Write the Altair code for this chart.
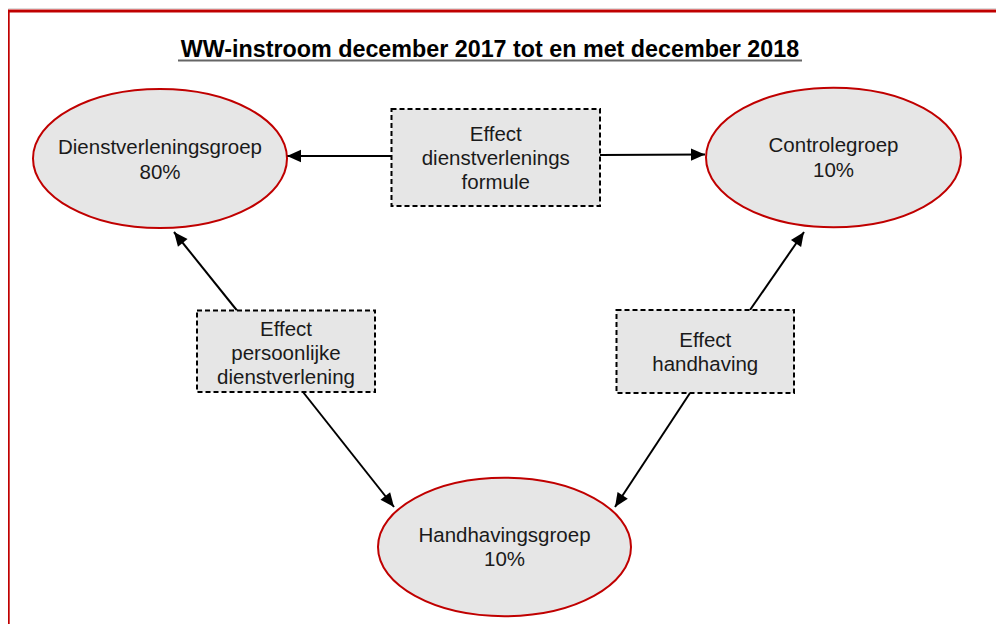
import math
import altair as alt
import pandas as pd

# ---------------- data ----------------
title_text = "WW-instroom december 2017 tot en met december 2018"
title_x = [490]
title_base = [57]
underline_x0 = [178]
underline_x1 = [802]
underline_y = [60.5]

node_names = ["Dienstverleningsgroep", "Controlegroep", "Handhavingsgroep"]
node_shares = ["80%", "10%", "10%"]
node_cx = [160, 833.5, 504.5]
node_cy = [158.5, 157.5, 547]
node_width = [254, 255, 253]
node_name_base = [154, 152, 542]
node_share_base = [179, 177, 566]

box_lines = [
    ["Effect", "dienstverlenings", "formule"],
    ["Effect", "persoonlijke", "dienstverlening"],
    ["Effect", "handhaving"],
]
box_x0 = [391.5, 197, 616.5]
box_x1 = [600, 375, 794]
box_y0 = [109, 310.5, 310]
box_y1 = [206, 392, 393]
box_first_base = [141, 336, 347]
box_line_step = 24

arrow_x0 = [391.5, 600, 237, 303, 750, 690]
arrow_y0 = [156, 155, 310.5, 392, 310, 393]
arrow_x1 = [287, 705, 174, 394, 804, 615]
arrow_y1 = [156, 154.5, 232, 507, 232, 507]

frame_x0 = [8.3]
frame_y0 = [11]
frame_x1 = [1200]
frame_y1 = [1200]

# ---------------- styling ----------------
FONT = "Liberation Sans"
GREY_FILL = "#e6e6e6"
RED = "#c00000"
TEXT = "#1a1a1a"
ELL_R = 0.547
k = 0.5523
ELLIPSE = (
    f"M -1 0 C -1 {-ELL_R*k:.4f} {-k} {-ELL_R} 0 {-ELL_R} "
    f"C {k} {-ELL_R} 1 {-ELL_R*k:.4f} 1 0 "
    f"C 1 {ELL_R*k:.4f} {k} {ELL_R} 0 {ELL_R} "
    f"C {-k} {ELL_R} -1 {ELL_R*k:.4f} -1 0 Z"
)
ARROW = "M 0 0 L 0.44 1 L -0.44 1 Z"
ARROW_SIZE = 784

W, H = 988, 616
xs = alt.Scale(domain=[8, 8 + W], nice=False, zero=False)
ys = alt.Scale(domain=[8, 8 + H], nice=False, zero=False, reverse=True)


def X(f):
    return alt.X(f, type="quantitative", scale=xs, axis=None)


def Y(f):
    return alt.Y(f, type="quantitative", scale=ys, axis=None)


# ---------------- tables ----------------
frame_df = pd.DataFrame({"x": frame_x0, "y": frame_y0, "x2": frame_x1, "y2": frame_y1})

arrow_df = pd.DataFrame({"x": arrow_x0, "y": arrow_y0, "x2": arrow_x1, "y2": arrow_y1})
arrow_df["angle"] = [
    (math.degrees(math.atan2(x1 - x0, -(y1 - y0))) + 360) % 360
    for x0, y0, x1, y1 in zip(arrow_x0, arrow_y0, arrow_x1, arrow_y1)
]

box_df = pd.DataFrame({"x": box_x0, "x2": box_x1, "y": box_y0, "y2": box_y1})

node_df = pd.DataFrame({"x": node_cx, "y": node_cy, "size": [w * w for w in node_width]})

node_text_rows = []
for nm, sh, cx, b1, b2 in zip(node_names, node_shares, node_cx, node_name_base, node_share_base):
    node_text_rows.append({"x": cx, "y": b1, "t": nm})
    node_text_rows.append({"x": cx, "y": b2, "t": sh})
node_text_df = pd.DataFrame(node_text_rows)

box_text_rows = []
for lines, x0, x1, b in zip(box_lines, box_x0, box_x1, box_first_base):
    for i, ln in enumerate(lines):
        box_text_rows.append({"x": (x0 + x1) / 2, "y": b + i * box_line_step, "t": ln})
box_text_df = pd.DataFrame(box_text_rows)

title_df = pd.DataFrame({"x": title_x, "y": title_base, "t": [title_text]})
underline_df = pd.DataFrame({"x": underline_x0, "x2": underline_x1, "y": underline_y})

# ---------------- layers ----------------
frame = alt.Chart(frame_df).mark_rect(
    fill=None, fillOpacity=0, stroke=RED, strokeWidth=2.8
).encode(x=X("x"), y=Y("y"), x2="x2", y2="y2")

lines_ = alt.Chart(arrow_df).mark_rule(color="black", strokeWidth=2).encode(
    x=X("x"), y=Y("y"), x2="x2", y2="y2"
)

heads = alt.Chart(arrow_df).mark_point(
    shape=ARROW, filled=True, fill="black", opacity=1, strokeWidth=0
).encode(
    x=X("x2"), y=Y("y2"), angle=alt.Angle("angle:Q", scale=None), size=alt.value(ARROW_SIZE)
)

boxes = alt.Chart(box_df).mark_rect(
    fill=GREY_FILL, stroke="black", strokeDash=[5, 3], strokeWidth=2
).encode(x=X("x"), y=Y("y"), x2="x2", y2="y2")

ellipses = alt.Chart(node_df).mark_point(
    shape=ELLIPSE, filled=True, fill=GREY_FILL, stroke=RED, strokeWidth=2,
    opacity=1, fillOpacity=1, strokeOpacity=1
).encode(x=X("x"), y=Y("y"), size=alt.Size("size:Q", scale=None))

node_text = alt.Chart(node_text_df).mark_text(
    font=FONT, fontSize=20.5, color=TEXT, baseline="alphabetic", align="center"
).encode(x=X("x"), y=Y("y"), text="t:N")

box_text = alt.Chart(box_text_df).mark_text(
    font=FONT, fontSize=20.5, color=TEXT, baseline="alphabetic", align="center"
).encode(x=X("x"), y=Y("y"), text="t:N")

title = alt.Chart(title_df).mark_text(
    font=FONT, fontSize=23.3, fontWeight="bold", color="black", baseline="alphabetic", align="center"
).encode(x=X("x"), y=Y("y"), text="t:N")

underline = alt.Chart(underline_df).mark_rule(color="#666666", strokeWidth=2).encode(
    x=X("x"), x2="x2", y=Y("y")
)

chart = alt.layer(
    frame, lines_, boxes, ellipses, heads, node_text, box_text, underline, title
).properties(
    width=W, height=H, padding=0, autosize=alt.AutoSizeParams(type="none")
).configure_view(strokeWidth=0).configure(background="white")

chart.save("out.html", embed_options={"renderer": "svg", "actions": False})
